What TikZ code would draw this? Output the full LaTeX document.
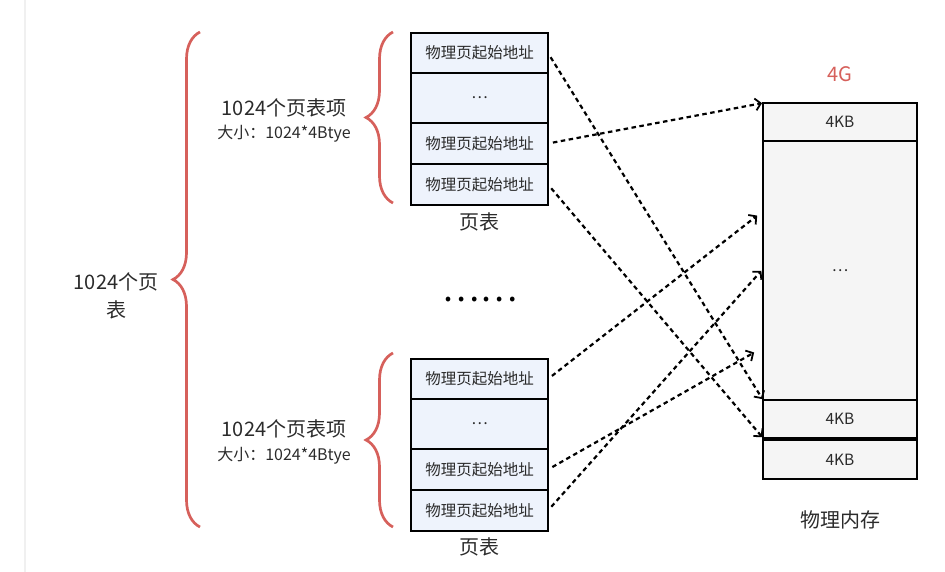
\documentclass[tikz,border=0pt]{standalone}
\usepackage{fontspec}
\setmainfont{Noto Sans CJK SC}
\usetikzlibrary{arrows.meta,positioning,decorations.pathreplacing}

\definecolor{bracered}{HTML}{D6605B}
\definecolor{cellblue}{HTML}{EEF3FC}
\definecolor{memgray}{HTML}{F5F5F5}
\definecolor{textgray}{HTML}{2B2B2B}

\begin{document}
\begin{tikzpicture}[x=1pt,y=-1pt,>={Straight Barb[length=5.5pt,width=12pt,line width=1.8pt]},
	cell/.style={draw,line width=2pt,fill=cellblue,minimum width=137pt,outer sep=0pt,inner sep=0pt,text=textgray,font=\fontsize{15.5}{18}\selectfont},
	mem/.style={draw,line width=2pt,fill=memgray,minimum width=154pt,outer sep=0pt,inner sep=0pt,text=textgray,font=\fontsize{15.5}{18}\selectfont},
	lbl/.style={text=textgray,font=\fontsize{20}{28}\selectfont,align=center},
	small/.style={text=textgray,font=\fontsize{16}{18}\selectfont},
	link/.style={->,line width=2.2pt,dash pattern=on 4.5pt off 3.5pt,shorten <=5pt,shorten >=1pt},
	redbrace/.style={draw=bracered,line width=2.7pt,decorate,decoration={brace,amplitude=27pt}}]
		\useasboundingbox (0,0) rectangle (945,572);
		\draw[gray!12,line width=1.5pt] (25,0) -- (25,572);
		% top page table
		\node[cell,minimum height=40pt] (t1) at (479.5,53) {物理页起始地址};
		\node[cell,minimum height=50pt] [below=0pt of t1] (t2) {…};
		\node[cell,minimum height=41pt] [below=0pt of t2] (t3) {物理页起始地址};
		\node[cell,minimum height=41pt] [below=0pt of t3] (t4) {物理页起始地址};
		\node[lbl] [below=4pt of t4] (tl) {页表};
		% bottom page table
		\node[cell,minimum height=40pt] (b1) at (479.5,379) {物理页起始地址};
		\node[cell,minimum height=50pt] [below=0pt of b1] (b2) {…};
		\node[cell,minimum height=41pt] [below=0pt of b2] (b3) {物理页起始地址};
		\node[cell,minimum height=41pt] [below=0pt of b3] (b4) {物理页起始地址};
		\node[lbl] [below=3pt of b4] (bl) {页表};
		\node[text=black,font=\fontsize{35}{40}\selectfont] (dots) at (480,300) {……};
		% physical memory
		\node[mem,minimum height=38pt] (m1) at (840,122) {4KB};
		\node[mem,minimum height=259pt] [below=0pt of m1] (m2) {…};
		\node[mem,minimum height=38pt] [below=0pt of m2] (m3) {4KB};
		\node[mem,minimum height=39pt] [below=2pt of m3] (m4) {4KB};
		\node[lbl,text=bracered] (top) at (840,74) {4G};
		\node[lbl] (ml) at (840,520) {物理内存};
		% braces and labels
		\draw[redbrace] (200,527) -- (200,32);
		\draw[redbrace] (393,203) -- (393,32);
		\draw[redbrace] (393,527) -- (393,353);
		\node[lbl] (all) at (116,296) {1024个页\\表};
		\node[lbl] (e1) at (284,108) {1024个页表项};
		\node[small] (s1) at (284,134) {大小：1024*4Btye};
		\node[lbl] (e2) at (284,429) {1024个页表项};
		\node[small] (s2) at (284,456) {大小：1024*4Btye};
		% links
		\coordinate (in1) at (758,215);
		\coordinate (in2) at (762,270);
		\coordinate (in3) at (755,352);
		\draw[link] (t1.east) -- (m3.north west);
		\draw[link] (t3.east) -- (m1.north west);
		\draw[link] (t4.east) -- (m3.south west);
		\draw[link] (b1.east) -- (in1);
		\draw[link] (b3.east) -- (in3);
		\draw[link] (b4.east) -- (in2);
	\end{tikzpicture}
\end{document}
